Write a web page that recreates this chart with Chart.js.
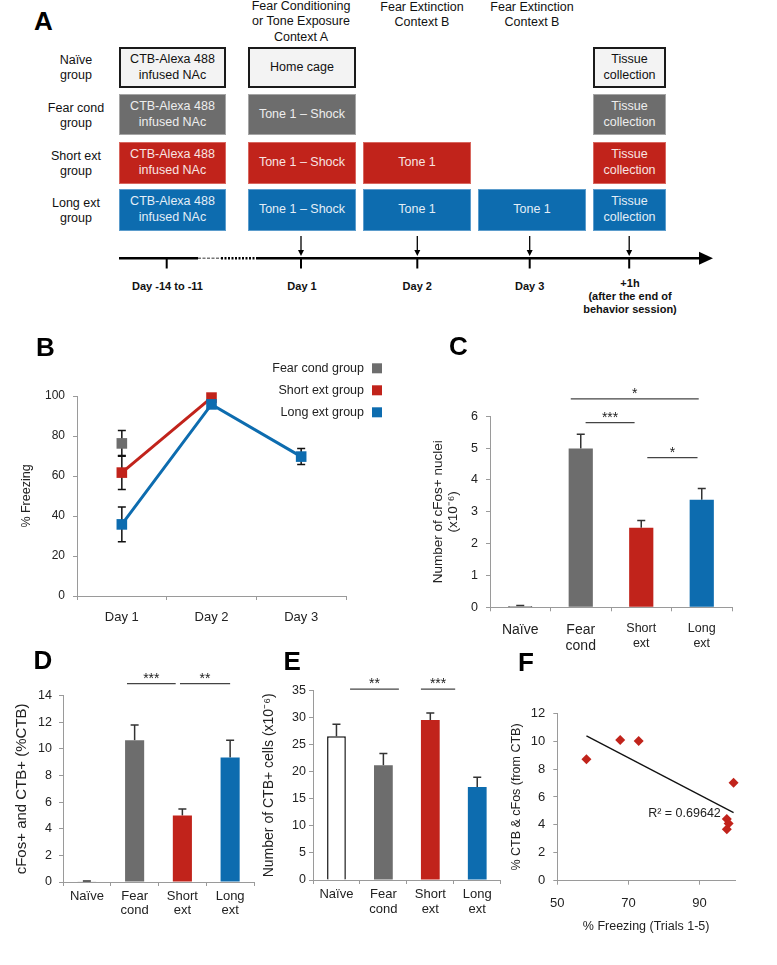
<!DOCTYPE html>
<html>
<head>
<meta charset="utf-8">
<script src="https://cdn.jsdelivr.net/npm/chart.js@4.4.1/dist/chart.umd.min.js"></script>
<style>
  html, body { margin: 0; padding: 0; background: #fff; }
  #page { position: relative; width: 777px; height: 965px; overflow: hidden; font-family: 'Liberation Sans', Arial, sans-serif; }
  canvas { position: absolute; }
  .t { position: absolute; transform: translate(-50%, -50%); white-space: nowrap; text-align: center;
       font-size: 12.5px; line-height: 15.3px; color: #111; }
  .b { font-weight: bold; font-size: 11px; line-height: 13px; }
  .box { position: absolute; box-sizing: border-box; display: flex; align-items: center; justify-content: center;
         text-align: center; font-size: 12.5px; line-height: 15.3px; }
  .naive { background: #f3f3f3; border: 2px solid #1a1a1a; color: #111; }
  .fear { background: #6d6d6d; border: 1.5px solid #a5a5a5; color: #eee; }
  .short { background: #c1231b; border: 1.5px solid #d8675f; color: #f8e4e2; }
  .long { background: #0d6caf; border: 1.5px solid #5b9ccc; color: #e3eef7; }
  .L { position: absolute; font-weight: bold; font-size: 26px; line-height: 26px; color: #000; }
</style>
</head>
<body>
<div id="page">
  <!-- panel A: schematic -->
  <div class="L" style="left:34px;top:8px">A</div>
  <div class="t" style="left:301px;top:22px">Fear Conditioning<br>or Tone Exposure<br>Context A</div>
  <div class="t" style="left:422px;top:14.5px">Fear Extinction<br>Context B</div>
  <div class="t" style="left:532px;top:14.5px">Fear Extinction<br>Context B</div>

  <div class="t" style="left:76px;top:68px">Naïve<br>group</div>
  <div class="t" style="left:76px;top:115.5px">Fear cond<br>group</div>
  <div class="t" style="left:76px;top:164px">Short ext<br>group</div>
  <div class="t" style="left:76px;top:211px">Long ext<br>group</div>

  <div class="box naive" style="left:119px;top:47px;width:107px;height:41px">CTB-Alexa 488<br>infused NAc</div>
  <div class="box naive" style="left:248px;top:47px;width:108px;height:41px">Home cage</div>
  <div class="box naive" style="left:593px;top:47px;width:73px;height:41px">Tissue<br>collection</div>

  <div class="box fear" style="left:119px;top:94px;width:107px;height:41px">CTB-Alexa 488<br>infused NAc</div>
  <div class="box fear" style="left:248px;top:94px;width:108px;height:41px">Tone 1 – Shock</div>
  <div class="box fear" style="left:593px;top:94px;width:73px;height:41px">Tissue<br>collection</div>

  <div class="box short" style="left:119px;top:141.5px;width:107px;height:42.5px">CTB-Alexa 488<br>infused NAc</div>
  <div class="box short" style="left:248px;top:141.5px;width:108px;height:42.5px">Tone 1 – Shock</div>
  <div class="box short" style="left:363px;top:141.5px;width:108px;height:42.5px">Tone 1</div>
  <div class="box short" style="left:593px;top:141.5px;width:73px;height:42.5px">Tissue<br>collection</div>

  <div class="box long" style="left:119px;top:188.5px;width:107px;height:42px">CTB-Alexa 488<br>infused NAc</div>
  <div class="box long" style="left:248px;top:188.5px;width:108px;height:42px">Tone 1 – Shock</div>
  <div class="box long" style="left:363px;top:188.5px;width:108px;height:42px">Tone 1</div>
  <div class="box long" style="left:478px;top:188.5px;width:108px;height:42px">Tone 1</div>
  <div class="box long" style="left:593px;top:188.5px;width:73px;height:42px">Tissue<br>collection</div>

  <svg style="position:absolute;left:0;top:0" width="777" height="330">
    <g stroke="#000" fill="none">
      <line x1="119" y1="258.3" x2="198" y2="258.3" stroke-width="2.5"/>
      <line x1="198" y1="258.3" x2="221" y2="258.3" stroke-width="1.5" stroke="#777" stroke-dasharray="3 1.5"/>
      <line x1="221" y1="258.3" x2="257" y2="258.3" stroke-width="2.5" stroke-dasharray="2 1.5"/>
      <line x1="257" y1="258.3" x2="701" y2="258.3" stroke-width="2.5"/>
      <line x1="166.7" y1="258" x2="166.7" y2="268.5" stroke-width="2"/>
      <line x1="301" y1="258" x2="301" y2="268.5" stroke-width="2"/>
      <line x1="417.3" y1="258" x2="417.3" y2="268.5" stroke-width="2"/>
      <line x1="529.7" y1="258" x2="529.7" y2="268.5" stroke-width="2"/>
      <line x1="629.2" y1="258" x2="629.2" y2="268.5" stroke-width="2"/>
      <line x1="301" y1="236" x2="301" y2="251" stroke-width="1.3"/>
      <line x1="417.3" y1="236" x2="417.3" y2="251" stroke-width="1.3"/>
      <line x1="529.7" y1="236" x2="529.7" y2="251" stroke-width="1.3"/>
      <line x1="629.2" y1="236" x2="629.2" y2="251" stroke-width="1.3"/>
    </g>
    <g fill="#000">
      <polygon points="699,251.8 713,258.3 699,264.8"/>
      <polygon points="298,250 304,250 301,256"/>
      <polygon points="414.3,250 420.3,250 417.3,256"/>
      <polygon points="526.7,250 532.7,250 529.7,256"/>
      <polygon points="626.2,250 632.2,250 629.2,256"/>
    </g>
  </svg>
  <div class="t b" style="left:167.5px;top:286px">Day -14 to -11</div>
  <div class="t b" style="left:302px;top:286px">Day 1</div>
  <div class="t b" style="left:417.3px;top:286px">Day 2</div>
  <div class="t b" style="left:529.7px;top:286px">Day 3</div>
  <div class="t b" style="left:630px;top:296px">+1h<br>(after the end of<br>behavior session)</div>

  <canvas id="chartB" width="400" height="300" style="left:0;top:330px"></canvas>
  <canvas id="chartC" width="397" height="300" style="left:380px;top:360px"></canvas>
  <canvas id="chartD" width="258" height="265" style="left:0;top:660px"></canvas>
  <canvas id="chartE" width="262" height="265" style="left:258px;top:660px"></canvas>
  <canvas id="chartF" width="272" height="270" style="left:505px;top:680px"></canvas>

  <div class="L" style="left:36px;top:333.5px">B</div>
  <div class="L" style="left:449px;top:333.3px">C</div>
  <div class="L" style="left:33.5px;top:646.6px">D</div>
  <div class="L" style="left:283.5px;top:648px">E</div>
  <div class="L" style="left:518px;top:649.3px">F</div>
</div>

<script>
// ---- data ----
// B: % freezing per day
const dayLabels = ['Day 1', 'Day 2', 'Day 3'];
const fearCondFreezing = [76.3, null, null];
const fearCondFreezingErr = [6.4, 0, 0];
const shortExtFreezing = [61.7, 99.2, null];
const shortExtFreezingErr = [8.5, 1, 0];
const longExtFreezing = [35.8, 95.8, 69.7];
const longExtFreezingErr = [8.7, 1.5, 4];

// C, D, E: group bars
const groupLabels = ['Naïve', ['Fear', 'cond'], ['Short', 'ext'], ['Long', 'ext']];
const cfosNuclei = [0.04, 4.99, 2.5, 3.38];
const cfosNucleiErr = [0.02, 0.45, 0.23, 0.35];
const cfosCtbPct = [0.05, 10.65, 5.0, 9.36];
const cfosCtbPctErr = [0.02, 1.15, 0.48, 1.3];
const ctbCells = [26.6, 21.2, 29.6, 17.2];
const ctbCellsErr = [2.2, 2.2, 1.3, 1.8];

// F: scatter + trend line
const freezingTrials = [58.2, 67.7, 72.9, 99.6, 97.7, 98.2, 97.7];
const ctbCfosPct = [8.71, 10.09, 10.02, 7.03, 4.42, 4.1, 3.69];
const trendX = [58.2, 99.6];
const trendY = [10.38, 4.88];

const grey = '#6d6d6d';
const red = '#c1231b';
const blue = '#0d6caf';
const barColors = ['#ffffff', grey, red, blue];

Chart.defaults.font.family = "'Liberation Sans', Arial, sans-serif";
Chart.defaults.color = '#222';
Chart.defaults.animation = false;

// error bars from dataset.errors, drawn under the marks
const errorBars = {
  id: 'errorBars',
  beforeDatasetsDraw(chart, args, opts) {
    const ctx = chart.ctx;
    const ys = chart.scales.y;
    chart.data.datasets.forEach((ds, i) => {
      if (!ds.errors) return;
      const meta = chart.getDatasetMeta(i);
      meta.data.forEach((el, j) => {
        const v = ds.data[j];
        const e = ds.errors[j];
        if (v == null || !e) return;
        const top = ys.getPixelForValue(v + e);
        const bottom = opts.both ? ys.getPixelForValue(v - e) : ys.getPixelForValue(v);
        ctx.save();
        ctx.strokeStyle = opts.color || '#222';
        ctx.lineWidth = 1.5;
        ctx.beginPath();
        ctx.moveTo(el.x, top);
        ctx.lineTo(el.x, bottom);
        ctx.moveTo(el.x - 4, top);
        ctx.lineTo(el.x + 4, top);
        if (opts.both) {
          ctx.moveTo(el.x - 4, bottom);
          ctx.lineTo(el.x + 4, bottom);
        }
        ctx.stroke();
        ctx.restore();
      });
    });
  }
};

// significance lines with stars
const sigLines = {
  id: 'sigLines',
  afterDraw(chart, args, opts) {
    const ctx = chart.ctx;
    const xs = chart.scales.x;
    const ys = chart.scales.y;
    (opts.items || []).forEach((s) => {
      const py = ys.getPixelForValue(s.level);
      const x0 = xs.getPixelForValue(s.from);
      const x1 = xs.getPixelForValue(s.to);
      ctx.save();
      ctx.strokeStyle = '#444';
      ctx.lineWidth = 1.2;
      ctx.beginPath();
      ctx.moveTo(x0, py);
      ctx.lineTo(x1, py);
      ctx.stroke();
      ctx.fillStyle = '#222';
      ctx.font = "14px 'Liberation Sans', Arial, sans-serif";
      ctx.textAlign = 'center';
      ctx.textBaseline = 'bottom';
      ctx.fillText(s.text, (x0 + x1) / 2, py + 2);
      ctx.restore();
    });
  }
};

// legend on the right: text then square
const sideLegend = {
  id: 'sideLegend',
  afterDraw(chart, args, opts) {
    const { ctx, chartArea } = chart;
    ctx.save();
    ctx.font = "12.5px 'Liberation Sans', Arial, sans-serif";
    ctx.textAlign = 'right';
    ctx.textBaseline = 'middle';
    chart.data.datasets.forEach((ds, i) => {
      const cy = chartArea.top + opts.top + i * opts.gap;
      ctx.fillStyle = '#222';
      ctx.fillText(ds.label, chartArea.right + opts.textRight, cy);
      ctx.fillStyle = ds.backgroundColor;
      ctx.fillRect(chartArea.right + opts.boxLeft, cy - 5, 10, 10);
    });
    ctx.restore();
  }
};

// free text placed in data units
const noteText = {
  id: 'noteText',
  afterDatasetsDraw(chart, args, opts) {
    if (!opts.text) return;
    const ctx = chart.ctx;
    ctx.save();
    ctx.font = "12.5px 'Liberation Sans', Arial, sans-serif";
    ctx.fillStyle = '#222';
    ctx.textAlign = 'right';
    ctx.textBaseline = 'middle';
    ctx.fillText(opts.text, chart.scales.x.getPixelForValue(opts.x), chart.scales.y.getPixelForValue(opts.y));
    ctx.restore();
  }
};

function axisGrid() {
  return { drawOnChartArea: false, drawTicks: true, tickLength: 4, color: '#9a9a9a', lineWidth: 1 };
}
function axisBorder() {
  return { display: true, color: '#9a9a9a', width: 1 };
}

// ---------- B ----------
new Chart(document.getElementById('chartB'), {
  type: 'line',
  data: {
    labels: dayLabels,
    datasets: [
      { label: 'Fear cond group', data: fearCondFreezing, errors: fearCondFreezingErr, order: 3,
        borderColor: grey, backgroundColor: grey },
      { label: 'Short ext group', data: shortExtFreezing, errors: shortExtFreezingErr, order: 2,
        borderColor: red, backgroundColor: red },
      { label: 'Long ext group', data: longExtFreezing, errors: longExtFreezingErr, order: 1,
        borderColor: blue, backgroundColor: blue },
    ],
  },
  options: {
    responsive: false,
    layout: { padding: { left: 0, top: 66, right: 54, bottom: 0 } },
    elements: {
      line: { borderWidth: 3, tension: 0 },
      point: { pointStyle: 'rect', radius: 7.5, borderWidth: 0, hoverRadius: 7.5 },
    },
    datasets: { line: { clip: false } },
    plugins: {
      legend: { display: false },
      tooltip: { enabled: false },
      errorBars: { both: true, color: '#111' },
      sideLegend: { top: -27.7, gap: 22, textRight: 18, boxLeft: 26 },
    },
    scales: {
      x: {
        offset: true,
        grid: Object.assign(axisGrid(), { offset: true }),
        border: axisBorder(),
        ticks: { font: { size: 13 }, padding: 10 },
        afterFit(s) { s.height = 34; },
      },
      y: {
        min: 0, max: 100,
        grid: axisGrid(),
        border: axisBorder(),
        ticks: { stepSize: 20, font: { size: 12 }, padding: 8 },
        title: { display: true, text: '% Freezing', font: { size: 12.5 }, padding: { top: 19, bottom: 0 } },
        afterFit(s) { s.width = 77; },
      },
    },
  },
  plugins: [errorBars, sideLegend],
});

function barChart(id, values, errs, cfg) {
  return new Chart(document.getElementById(id), {
    type: 'bar',
    data: {
      labels: groupLabels,
      datasets: [{
        data: values,
        errors: errs,
        backgroundColor: barColors,
        borderColor: ['#111', grey, red, blue],
        borderWidth: [1.5, 0, 0, 0],
        categoryPercentage: 1,
        barPercentage: 0.4,
      }],
    },
    options: {
      responsive: false,
      layout: { padding: cfg.padding },
      plugins: {
        legend: { display: false },
        tooltip: { enabled: false },
        errorBars: { both: false, color: '#333' },
        sigLines: { items: cfg.sig },
      },
      scales: {
        x: {
          grid: Object.assign(axisGrid(), { offset: true }),
          border: axisBorder(),
          ticks: { font: cfg.xFont, padding: cfg.xPad },
          afterFit(s) { s.height = cfg.xHeight; },
        },
        y: {
          min: 0, max: cfg.max,
          grid: axisGrid(),
          border: axisBorder(),
          ticks: { stepSize: cfg.step, font: { size: cfg.yFontSize }, padding: cfg.yPad },
          title: { display: true, text: cfg.title, font: { size: cfg.titleSize, lineHeight: 1.1 },
                   padding: { top: cfg.titlePad, bottom: 0 } },
          afterFit(s) { s.width = cfg.yWidth; },
        },
      },
    },
    plugins: [errorBars, sigLines],
  });
}

// ---------- C ----------
barChart('chartC', cfosNuclei, cfosNucleiErr, {
  padding: { left: 48, top: 56.3, right: 45, bottom: 0 },
  max: 6, step: 1, yFontSize: 12.5, yPad: 8, yWidth: 62,
  xHeight: 52.7, xPad: 10,
  xFont: (c) => (c.index >= 2 ? { size: 12.5, lineHeight: 1.2 } : { size: 14, lineHeight: 1.2 }),
  title: ['Number of cFos+ nuclei', '(x10⁻⁶)'], titleSize: 13.5, titlePad: 3,
  sig: [
    { from: 0.835, to: 2.95, level: 6.55, text: '*' },
    { from: 1.08, to: 1.89, level: 5.8, text: '***' },
    { from: 2.1, to: 2.93, level: 4.7, text: '*' },
  ],
});

// ---------- D ----------
barChart('chartD', cfosCtbPct, cfosCtbPctErr, {
  padding: { left: 0, top: 35.7, right: 4, bottom: 0 },
  max: 14, step: 2, yFontSize: 12.5, yPad: 7, yWidth: 63,
  xHeight: 43, xPad: 3,
  xFont: { size: 13, lineHeight: 1.1 },
  title: 'cFos+ and CTB+ (%CTB)', titleSize: 15, titlePad: 14,
  sig: [
    { from: 0.84, to: 1.86, level: 14.9, text: '***' },
    { from: 1.95, to: 3.0, level: 14.9, text: '**' },
  ],
});

// ---------- E ----------
barChart('chartE', ctbCells, ctbCellsErr, {
  padding: { left: 0, top: 30.7, right: 19.3, bottom: 0 },
  max: 35, step: 5, yFontSize: 12.5, yPad: 3, yWidth: 55,
  xHeight: 45, xPad: 3,
  xFont: { size: 13, lineHeight: 1.15 },
  title: 'Number of CTB+ cells (x10⁻⁶)', titleSize: 14, titlePad: 3,
  sig: [
    { from: 0.29, to: 1.33, level: 35.3, text: '**' },
    { from: 1.8, to: 2.53, level: 35.3, text: '***' },
  ],
});

// ---------- F ----------
new Chart(document.getElementById('chartF'), {
  type: 'scatter',
  data: {
    datasets: [
      {
        data: freezingTrials.map((x, i) => ({ x: x, y: ctbCfosPct[i] })),
        pointStyle: 'rectRot', radius: 5, hoverRadius: 5,
        backgroundColor: red, borderColor: red, borderWidth: 0, clip: false,
      },
      {
        type: 'line',
        data: trendX.map((x, i) => ({ x: x, y: trendY[i] })),
        borderColor: '#111', borderWidth: 1.3, pointRadius: 0, showLine: true, clip: false,
      },
    ],
  },
  options: {
    responsive: false,
    layout: { padding: { left: 0, top: 33.3, right: 42, bottom: 0 } },
    plugins: {
      legend: { display: false },
      tooltip: { enabled: false },
      noteText: { text: 'R² = 0.69642', x: 96, y: 4.78 },
    },
    scales: {
      x: {
        type: 'linear', min: 50, max: 100,
        afterBuildTicks(s) { s.ticks = [50, 70, 90].map((v) => ({ value: v })); },
        grid: axisGrid(),
        border: axisBorder(),
        ticks: { font: { size: 13 }, padding: 11 },
        title: { display: true, text: '% Freezing (Trials 1-5)', font: { size: 12.5 }, padding: { top: 0, bottom: 15.8 } },
        afterFit(s) { s.height = 69.3; },
      },
      y: {
        min: 0, max: 12,
        grid: axisGrid(),
        border: axisBorder(),
        ticks: { stepSize: 2, font: { size: 13 }, padding: 8 },
        title: { display: true, text: '% CTB & cFos (from CTB)', font: { size: 12.5 }, padding: { top: 4, bottom: 0 } },
        afterFit(s) { s.width = 52.3; },
      },
    },
  },
  plugins: [noteText],
});
</script>
</body>
</html>
